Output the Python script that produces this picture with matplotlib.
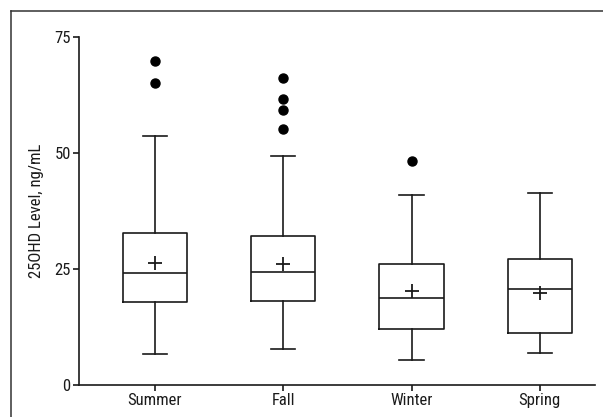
import matplotlib
matplotlib.use("Agg")
import matplotlib.pyplot as plt
from matplotlib.lines import Line2D

categories = ["Summer", "Fall", "Winter", "Spring"]
whislo = [6.7, 7.8, 5.4, 6.8]
q1 = [17.9, 18.0, 12.0, 11.1]
med = [24.1, 24.4, 18.7, 20.6]
q3 = [32.8, 32.0, 26.1, 27.1]
whishi = [53.6, 49.4, 40.9, 41.3]
means = [26.2, 26.1, 20.3, 19.8]
fliers = [[65.1, 69.7], [55.1, 59.3, 61.6, 66.0], [48.3], []]
yticks = [0, 25, 50, 75]

plt.rcParams['font.family'] = ['Roboto Condensed', 'Archivo Narrow', 'Liberation Sans', 'DejaVu Sans']

fig = plt.figure(figsize=(6.03, 4.17), dpi=100)
ax = fig.add_axes([79/603, 1-385/417, (595-79)/603, (385-36.7)/417])

stats = []
for i, c in enumerate(categories):
    stats.append(dict(label=c, whislo=whislo[i], q1=q1[i], med=med[i], q3=q3[i],
                      whishi=whishi[i], mean=means[i], fliers=fliers[i]))

lw = 1.2
ax.bxp(stats, positions=[1, 2, 3, 4], widths=0.5, showmeans=True,
       showfliers=True, patch_artist=False,
       boxprops=dict(color='#1a1a1a', linewidth=lw),
       whiskerprops=dict(color='#1a1a1a', linewidth=lw),
       capprops=dict(color='#1a1a1a', linewidth=lw),
       medianprops=dict(color='#1a1a1a', linewidth=lw),
       meanprops=dict(marker='+', markeredgecolor='#1a1a1a', markersize=10, markeredgewidth=1.3),
       flierprops=dict(marker='o', markerfacecolor='black', markeredgecolor='black', markersize=6.5),
       capwidths=0.19)

ax.set_xlim(0.408, 4.43)
ax.set_ylim(0, 75)
ax.set_yticks(yticks)
ax.set_xticks([1, 2, 3, 4])
ax.set_xticklabels(categories)
ax.spines['top'].set_visible(False)
ax.spines['right'].set_visible(False)
for s in ['left', 'bottom']:
    ax.spines[s].set_linewidth(1.2)
    ax.spines[s].set_color('#1a1a1a')
ax.tick_params(direction='out', length=4, width=1.2, labelsize=12, colors='#1a1a1a', pad=2)
ax.set_ylabel("25OHD Level, ng/mL", fontsize=12, color='#1a1a1a', labelpad=7)

fig.add_artist(Line2D([11/603, 11/603], [0, 1-11/417], transform=fig.transFigure, color='#333333', lw=1.1))
fig.add_artist(Line2D([11/603, 1], [1-11/417, 1-11/417], transform=fig.transFigure, color='#333333', lw=1.1))

fig.savefig("out.png", dpi=100)
